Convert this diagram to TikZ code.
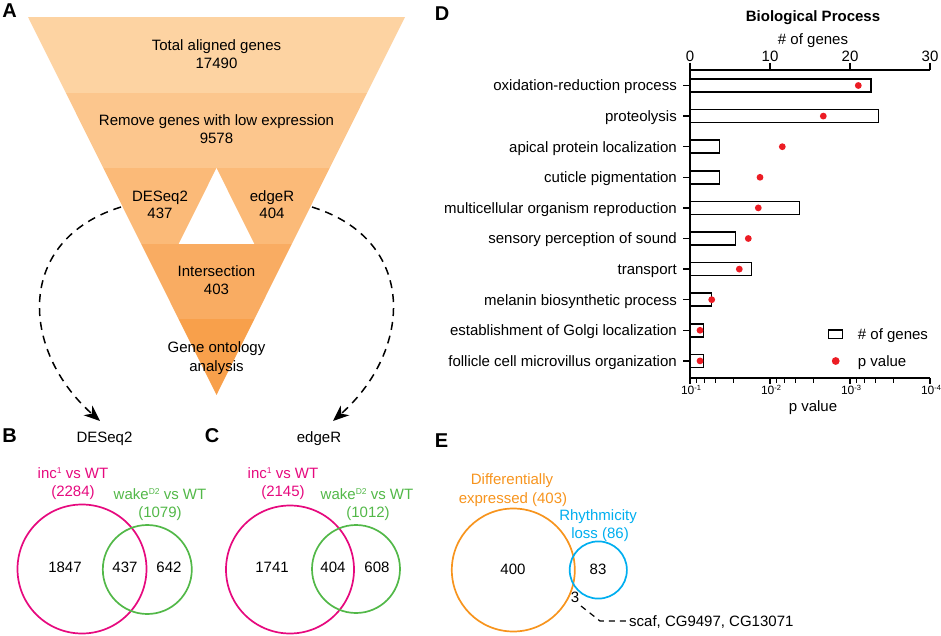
\documentclass[tikz,border=0pt]{standalone}
\usepackage{fontspec}
\setmainfont{Liberation Sans}
\usetikzlibrary{arrows.meta}
\definecolor{bandA}{HTML}{FDD3A2}
\definecolor{bandB}{HTML}{FCC68D}
\definecolor{bandC}{HTML}{FBBA78}
\definecolor{bandD}{HTML}{F9AC62}
\definecolor{bandE}{HTML}{F8A04B}
\definecolor{vpink}{HTML}{E6097E}
\definecolor{vgreen}{HTML}{52B848}
\definecolor{vorange}{HTML}{F7941D}
\definecolor{vblue}{HTML}{00AEEF}
\definecolor{dotred}{HTML}{EC1C24}
\newcommand{\supx}[1]{\raisebox{5pt}{\fontsize{8.5}{9}\selectfont #1}}
\begin{document}
\begin{tikzpicture}[x=1pt,y=-1pt,
  lbl/.style={inner sep=0pt, text height=10.7pt, text depth=0pt, font=\fontsize{15}{17}\selectfont},
  small/.style={inner sep=0pt, text height=8.6pt, text depth=0pt, font=\fontsize{12}{14}\selectfont},
  boldlbl/.style={lbl, font=\fontsize{15}{17}\selectfont\bfseries},
  panel/.style={inner sep=0pt, text height=14.3pt, text depth=0pt, font=\fontsize{20}{24}\selectfont\bfseries},
  dasharc/.style={line width=1.5pt, dash pattern=on 8pt off 6pt, -{Stealth[length=16pt,width=13pt,inset=5pt]}},
  axisline/.style={line width=1.5pt},
  barbox/.style={line width=1.5pt, draw=black, fill=white},
  venn/.style={line width=1.7pt},
]
\useasboundingbox (0,0) rectangle (941,636);

% ---------- Panel A funnel ----------
\begin{scope}
  \clip (28,17) -- (405,17) -- (216.5,395) -- cycle;
  \fill[bandA] (0,17) rectangle (441,92.6);
  \fill[bandB] (0,92.6) rectangle (441,168.2);
  \fill[bandC] (0,168.2) rectangle (441,243.8);
  \fill[bandD] (0,243.8) rectangle (441,319.4);
  \fill[bandE] (0,319.4) rectangle (441,396);
\end{scope}
\fill[white] (216.5,168.2) -- (254.2,243.8) -- (178.8,243.8) -- cycle;

\node[panel] (pA) at (9.5,10) {A};
\node[lbl] (tot1) at (216.5,45) {Total aligned genes};
\node[lbl] (tot2) at (216.5,63) {17490};
\node[lbl] (rem1) at (216.5,120) {Remove genes with low expression};
\node[lbl] (rem2) at (216.5,138) {9578};
\node[lbl] (des1) at (160,196) {DESeq2};
\node[lbl] (des2) at (160,213) {437};
\node[lbl] (edg1) at (272,196) {edgeR};
\node[lbl] (edg2) at (272,213) {404};
\node[lbl] (int1) at (216.5,271) {Intersection};
\node[lbl] (int2) at (216.5,289) {403};
\node[lbl] (go1) at (216.5,347) {Gene ontology};
\node[lbl] (go2) at (216.5,366) {analysis};

\coordinate (la) at (121,207);
\coordinate (ta) at (100,421);
\coordinate (ra) at (312,207);
\coordinate (tb) at (333,421);
\draw[dasharc] (la) .. controls (15,240) and (20,350) .. (ta);
\draw[dasharc] (ra) .. controls (418,240) and (413,350) .. (tb);

\node[lbl] (deslab) at (104.5,437) {DESeq2};
\node[lbl] (edglab) at (319,437) {edgeR};

% ---------- Panel B ----------
\node[panel] (pB) at (9.5,435.5) {B};
\draw[venn, vpink] (82,569) circle[radius=64.5pt];
\draw[venn, vgreen] (147.3,569.5) circle[radius=44.5pt];
\node[lbl, text=vpink] (bi1) at (73,473) {inc\supx{1} vs WT};
\node[lbl, text=vpink] (bi2) at (73,491) {(2284)};
\node[lbl, text=vgreen] (bw1) at (160,494) {wake\supx{D2} vs WT};
\node[lbl, text=vgreen] (bw2) at (160,512) {(1079)};
\node[lbl] (bn1) at (65,567) {1847};
\node[lbl] (bn2) at (125,567) {437};
\node[lbl] (bn3) at (169,567) {642};

% ---------- Panel C ----------
\node[panel] (pC) at (212,435.5) {C};
\draw[venn, vpink] (290,569.5) circle[radius=64pt];
\draw[venn, vgreen] (356,569) circle[radius=44pt];
\node[lbl, text=vpink] (ci1) at (283,473) {inc\supx{1} vs WT};
\node[lbl, text=vpink] (ci2) at (283,491) {(2145)};
\node[lbl, text=vgreen] (cw1) at (367,494) {wake\supx{D2} vs WT};
\node[lbl, text=vgreen] (cw2) at (368,512) {(1012)};
\node[lbl] (cn1) at (272,567) {1741};
\node[lbl] (cn2) at (333,567) {404};
\node[lbl] (cn3) at (377,567) {608};

% ---------- Panel D ----------
\node[panel] (pD) at (442,13) {D};
\node[boldlbl] (dtitle) at (813,16) {Biological Process};
\node[lbl] (dxlab) at (813,39) {\# of genes};
\foreach \v/\xx in {0/690,10/770,20/850,30/930} {
  \node[lbl] (top\v) at (\xx,56) {\v};
  \draw[axisline] (\xx,63) -- (\xx,70);
}
\draw[axisline] (690,70) -- (930,70);
\draw[axisline] (690,63) -- (690,378) -- (930,378);

\foreach \i/\name/\bar/\dot in {
  0/oxidation-reduction process/871/858.3,
  1/proteolysis/878.6/823.3,
  2/apical protein localization/719.3/782.3,
  3/cuticle pigmentation/719.3/760,
  4/multicellular organism reproduction/799.3/758.3,
  5/sensory perception of sound/735.3/748.3,
  6/transport/751.6/739.3,
  7/melanin biosynthetic process/711.6/711.7,
  8/establishment of Golgi localization/703.6/700,
  9/follicle cell microvillus organization/703.6/700} {
  \pgfmathsetmacro\yy{85.5+30.6*\i}
  \node[lbl, anchor=east] (row\i) at (677,\yy) {\name};
  \draw[axisline] (683,\yy) -- (690,\yy);
  \draw[barbox] (690,\yy-6.5) rectangle (\bar,\yy+6.5);
  \fill[dotred] (\dot,\yy) circle[radius=3.4pt];
}
\draw[axisline] (690,63) -- (690,378);

% bottom log axis
\foreach \d/\xx in {1/690,2/770,3/850,4/930} {
  \draw[axisline] (\xx,378) -- (\xx,384);
  \node[small] (bot\d) at (\xx+1,390) {10\raisebox{4pt}{\fontsize{7.5}{8}\selectfont -\d}};
}
\foreach \s in {690,770,850} {
  \foreach \o in {6.7,14.7,25.7,43.3} {
    \draw[line width=1.2pt] (\s+\o,378) -- (\s+\o,382.5);
  }
}
\node[lbl] (dplab) at (813,406) {p value};

% legend
\draw[barbox] (828.5,330) rectangle (842.5,338.5);
\node[lbl, anchor=west] (leg1) at (857.7,334) {\# of genes};
\fill[dotred] (835.7,361) circle[radius=3.9pt];
\node[lbl, anchor=west] (leg2) at (857.7,361) {p value};

% ---------- Panel E ----------
\node[panel] (pE) at (441.5,440.5) {E};
\draw[venn, vorange] (513.3,570) circle[radius=61.5pt];
\draw[venn, vblue] (598.3,570) circle[radius=28.6pt];
\node[lbl, text=vorange] (ed1) at (512,479) {Differentially};
\node[lbl, text=vorange] (ed2) at (513,498) {expressed (403)};
\node[lbl, text=vblue] (er1) at (598,515) {Rhythmicity};
\node[lbl, text=vblue] (er2) at (600,533) {loss (86)};
\node[lbl] (en1) at (513,569) {400};
\node[lbl] (en2) at (598,569) {83};
\node[lbl] (en3) at (575,597) {3};
\node[lbl, anchor=west] (egenes) at (629,621) {scaf, CG9497, CG13071};
\coordinate (e3end) at (581,606);
\coordinate (ebend) at (600,621);
\draw[line width=1.2pt, dash pattern=on 6pt off 5pt] (e3end) -- (ebend) -- (egenes.west);
\end{tikzpicture}
\end{document}
